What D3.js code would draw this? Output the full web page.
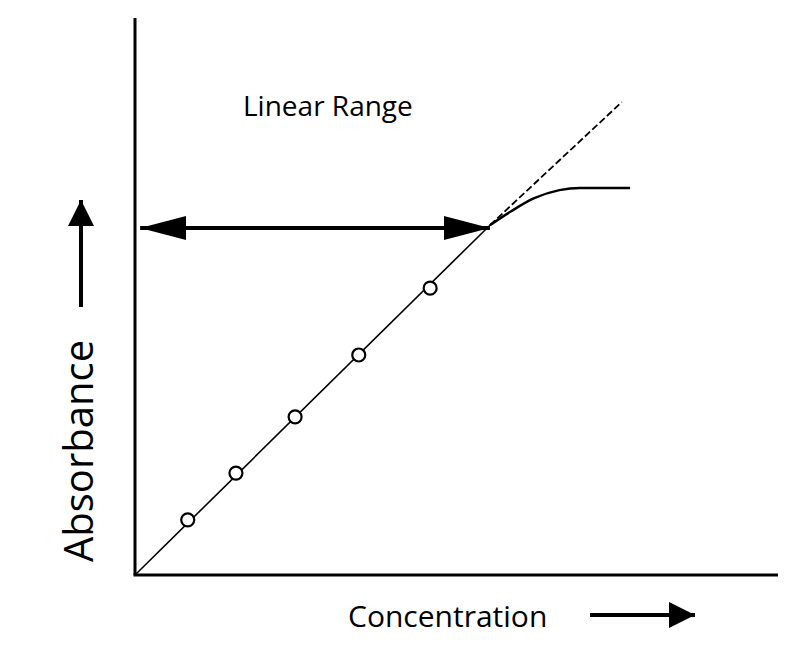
<!DOCTYPE html><html><head><meta charset="utf-8">
<script src="https://cdn.jsdelivr.net/npm/d3@7"></script>
<style>body{margin:0;background:#fff}</style></head><body>
<svg id="c" width="802" height="647"></svg>
<script>
const points = [[8.2,9.9],[15.7,18.3],[24.9,28.4],[34.8,39.5],[45.9,51.5]];
const linearLine = [[0,0],[55.2,62.8]];
const dashedLine = [[55.2,62.8],[75.7,84.9]];
const curveLine = [[55.2,62.8],[58.5,65.3],[62,67.6],[66,69.1],[69.2,69.5],[77,69.5]];
const rangeArrow = [[0.8,62.3],[55.2,62.3]];
const labels = {title:"Linear Range", x:"Concentration", y:"Absorbance"};

const svg = d3.select("#c");
const x = d3.scaleLinear().domain([0,100]).range([135,778]);
const y = d3.scaleLinear().domain([0,100]).range([575,18]);
const F = "'Open Sans', sans-serif";
const defs = svg.append("defs");
defs.append("marker").attr("id","ah").attr("viewBox","0 0 10 10").attr("refX",10).attr("refY",5)
 .attr("markerWidth",26).attr("markerHeight",26).attr("markerUnits","userSpaceOnUse").attr("orient","auto-start-reverse")
 .attr("preserveAspectRatio","none").append("path").attr("d","M0,0L10,5L0,10Z").attr("fill","#000");
defs.append("marker").attr("id","big").attr("viewBox","0 0 10 10").attr("refX",10).attr("refY",5)
 .attr("markerWidth",46).attr("markerHeight",24).attr("markerUnits","userSpaceOnUse").attr("orient","auto-start-reverse")
 .attr("preserveAspectRatio","none").append("path").attr("d","M0,0L10,5L0,10Z").attr("fill","#000");

svg.append("line").attr("x1",x(0)).attr("x2",x(0)).attr("y1",y(100)).attr("y2",y(0)).attr("stroke","#000").attr("stroke-width",3);
svg.append("line").attr("x1",x(0)-1.5).attr("x2",x(100)).attr("y1",y(0)).attr("y2",y(0)).attr("stroke","#000").attr("stroke-width",3);

const line = d3.line().x(d=>x(d[0])).y(d=>y(d[1]));
svg.append("path").attr("d",line(linearLine)).attr("stroke","#000").attr("stroke-width",1.6).attr("fill","none");
svg.append("path").attr("d",line(dashedLine)).attr("stroke","#000").attr("stroke-width",1.8).attr("stroke-dasharray","7,3").attr("fill","none");
svg.append("path").attr("d",d3.line().curve(d3.curveMonotoneX).x(d=>x(d[0])).y(d=>y(d[1]))(curveLine)).attr("stroke","#000").attr("stroke-width",2.5).attr("fill","none");
svg.append("path").attr("d",line(rangeArrow)).attr("stroke","#000").attr("stroke-width",4).attr("fill","none")
 .attr("marker-start","url(#big)").attr("marker-end","url(#big)");
svg.selectAll("circle").data(points).join("circle").attr("cx",d=>x(d[0])).attr("cy",d=>y(d[1])).attr("r",6.5)
 .attr("fill","#fff").attr("stroke","#000").attr("stroke-width",2.2);

svg.append("text").attr("x",243).attr("y",116).attr("font-family",F).attr("font-size",28).text(labels.title);
svg.append("text").attr("x",348).attr("y",627).attr("font-family",F).attr("font-size",30).text(labels.x);
svg.append("line").attr("x1",590).attr("x2",695).attr("y1",615).attr("y2",615).attr("stroke","#000").attr("stroke-width",4).attr("marker-end","url(#ah)");
svg.append("text").attr("transform","translate(93,562) rotate(-90)").attr("font-family",F).attr("font-size",40).text(labels.y);
svg.append("line").attr("x1",81).attr("x2",81).attr("y1",307).attr("y2",200).attr("stroke","#000").attr("stroke-width",4).attr("marker-end","url(#ah)");
</script></body></html>
